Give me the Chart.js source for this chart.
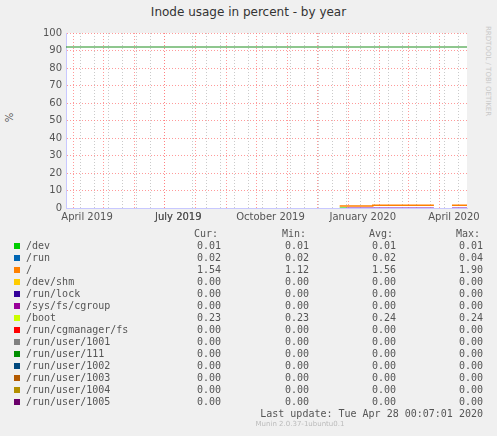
<!DOCTYPE html>
<html>
<head>
<meta charset="utf-8">
<script src="https://cdn.jsdelivr.net/npm/chart.js@4"></script>
<style>
  body { margin: 0; background: #f0f0f0; width: 497px; height: 436px; overflow: hidden; position: relative; font-family: "DejaVu Sans", sans-serif; }
  #title { position: absolute; top: 5px; left: 0; width: 497px; text-align: center; font-size: 12px; color: #333; }
  #ylab { position: absolute; left: 5px; top: 112px; font-size: 10px; color: #555; transform: rotate(-90deg); }
  #side { position: absolute; left: 484px; top: 26px; font-size: 7px; color: #c8c8c8; writing-mode: vertical-rl; }
  #wrap { position: absolute; left: 0; top: 0; width: 497px; height: 230px; }
  #legend { position: absolute; left: 0; top: 226px; width: 497px; font-family: "DejaVu Sans Mono", monospace; font-size: 10px; color: #555; }
  .row { position: absolute; height: 12px; line-height: 12px; white-space: pre; }
  .sw { position: absolute; left: 14px; width: 6px; height: 6px; top: 3px; }
  .nm { position: absolute; left: 26px; }
  .v { position: absolute; text-align: right; width: 60px; }
  #foot { position: absolute; top: 420px; left: 0; width: 600px; text-align: center; font-size: 7px; color: #bbb; }
</style>
</head>
<body>
<div id="title">Inode usage in percent - by year</div>
<div id="ylab">%</div>
<div id="side">RRDTOOL / TOBI OETIKER</div>
<div id="wrap"><canvas id="c" width="497" height="230"></canvas></div>
<div id="legend"></div>
<div id="foot">Munin 2.0.37-1ubuntu0.1</div>
<script>
// x = days since 1 April 2019
const xLabelDays = [14, 105, 197, 289, 380];
const xLabels = ['April 2019', 'July 2019', 'October 2019', 'January 2020', 'April 2020'];
const monthStarts = [0, 30, 61, 91, 122, 153, 183, 214, 244, 275, 306, 335, 366];
const warnLevel = 92;

const names = ['/dev', '/run', '/', '/dev/shm', '/run/lock', '/sys/fs/cgroup', '/boot', '/run/cgmanager/fs',
  '/run/user/1001', '/run/user/111', '/run/user/1002', '/run/user/1003', '/run/user/1004', '/run/user/1005'];
const colors = ['#00cc00', '#0066b3', '#ff8000', '#ffcc00', '#330099', '#990099', '#ccff00', '#ff0000',
  '#808080', '#008f00', '#00487d', '#b35a00', '#b38f00', '#6b006b'];
const cur = ['0.01', '0.02', '1.54', '0.00', '0.00', '0.00', '0.23', '0.00', '0.00', '0.00', '0.00', '0.00', '0.00', '0.00'];
const min = ['0.01', '0.02', '1.12', '0.00', '0.00', '0.00', '0.23', '0.00', '0.00', '0.00', '0.00', '0.00', '0.00', '0.00'];
const avg = ['0.01', '0.02', '1.56', '0.00', '0.00', '0.00', '0.24', '0.00', '0.00', '0.00', '0.00', '0.00', '0.00', '0.00'];
const max = ['0.01', '0.04', '1.90', '0.00', '0.00', '0.00', '0.24', '0.00', '0.00', '0.00', '0.00', '0.00', '0.00', '0.00'];

// series (only those with visible samples)
const rootDays = [266, 298, 299, 360, 361, 378, 393];
const rootVals = [1.12, 1.12, 1.6, 1.6, null, 1.54, 1.54];
const devDays = [266, 273, 274];
const devVals = [0.01, 0.01, null];
const cgDays = [273, 360, 361, 378, 393];
const cgVals = [0.0, 0.0, null, 0.0, 0.0];

function pts(d, v) { return d.map((x, i) => ({ x: x, y: v[i] })); }

const tickDays = [];
for (let d = -7; d <= 393; d += 14) tickDays.push(d);
monthStarts.forEach(d => tickDays.push(d));
xLabelDays.forEach(d => tickDays.push(d));

new Chart(document.getElementById('c'), {
  type: 'line',
  data: {
    datasets: [
      { data: [{ x: -7, y: warnLevel }, { x: 393, y: warnLevel }], borderColor: '#1f8f1f', borderWidth: 1, pointRadius: 0 },
      { data: pts(devDays, devVals), borderColor: colors[0], borderWidth: 1, pointRadius: 0, stepped: true },
      { data: pts(cgDays, cgVals), borderColor: '#aa66cc', borderWidth: 1.5, pointRadius: 0, stepped: true },
      { data: pts(rootDays, rootVals), borderColor: colors[2], borderWidth: 1.5, pointRadius: 0, stepped: true }
    ]
  },
  options: {
    animation: false, responsive: false, spanGaps: false,
    layout: { padding: { left: 0, right: 30, top: 33, bottom: 0 } },
    plugins: { legend: { display: false }, tooltip: { enabled: false } },
    scales: {
      x: {
        type: 'linear', min: -7, max: 393,
        afterBuildTicks: s => { s.ticks = tickDays.sort((a, b) => a - b).map(v => ({ value: v })); },
        afterFit: s => { s.height = 22; },
        border: { color: '#c8c8ff', dash: [1, 2] },
        grid: {
          color: c => monthStarts.includes(c.tick.value) ? 'rgba(255,120,120,0.75)' : (xLabelDays.includes(c.tick.value) ? 'rgba(0,0,0,0)' : 'rgba(180,180,180,0.7)'),
          drawTicks: false, lineWidth: 1
        },
        ticks: {
          autoSkip: false, maxRotation: 0, padding: 3, color: '#555', font: { size: 10, family: 'DejaVu Sans' },
          callback: v => { const i = xLabelDays.indexOf(v); return i >= 0 ? xLabels[i] : ''; }
        }
      },
      y: {
        min: 0, max: 100,
        afterBuildTicks: s => { const t = []; for (let v = 0; v <= 100; v += 5) t.push({ value: v }); s.ticks = t; },
        afterFit: s => { s.width = 66; },
        border: { color: '#c8c8ff', dash: [1, 2] },
        grid: {
          color: c => c.tick.value % 10 === 0 ? 'rgba(255,120,120,0.75)' : 'rgba(180,180,180,0.7)',
          drawTicks: false
        },
        ticks: {
          padding: 4, color: '#555', font: { size: 10, family: 'DejaVu Sans' },
          callback: v => v % 10 === 0 ? String(v) : ''
        }
      }
    }
  },
  plugins: [{
    id: 'bg',
    beforeDraw: ch => { const a = ch.chartArea, x = ch.ctx; x.save(); x.fillStyle = '#fff'; x.fillRect(a.left, a.top, a.right - a.left, a.bottom - a.top); x.restore(); }
  }]
});

// legend table
const lg = document.getElementById('legend');
let html = '';
const cols = [161, 249, 336, 423];
html += '<div class="row" style="top:2px;left:0;width:497px">';
['Cur:', 'Min:', 'Avg:', 'Max:'].forEach((h, j) => { html += `<span class="v" style="left:${cols[j] - 3}px">${h}</span>`; });
html += '</div>';
names.forEach((n, i) => {
  const top = 14 + i * 12;
  html += `<div class="row" style="top:${top}px;left:0;width:497px"><span class="sw" style="background:${colors[i]}"></span><span class="nm">${n}</span>`;
  [cur[i], min[i], avg[i], max[i]].forEach((v, j) => { html += `<span class="v" style="left:${cols[j]}px">${v}</span>`; });
  html += '</div>';
});
html += '<div class="row" style="top:182px;left:0;width:483px;text-align:right">Last update: Tue Apr 28 00:07:01 2020</div>';
lg.innerHTML = html;
</script>
</body>
</html>
